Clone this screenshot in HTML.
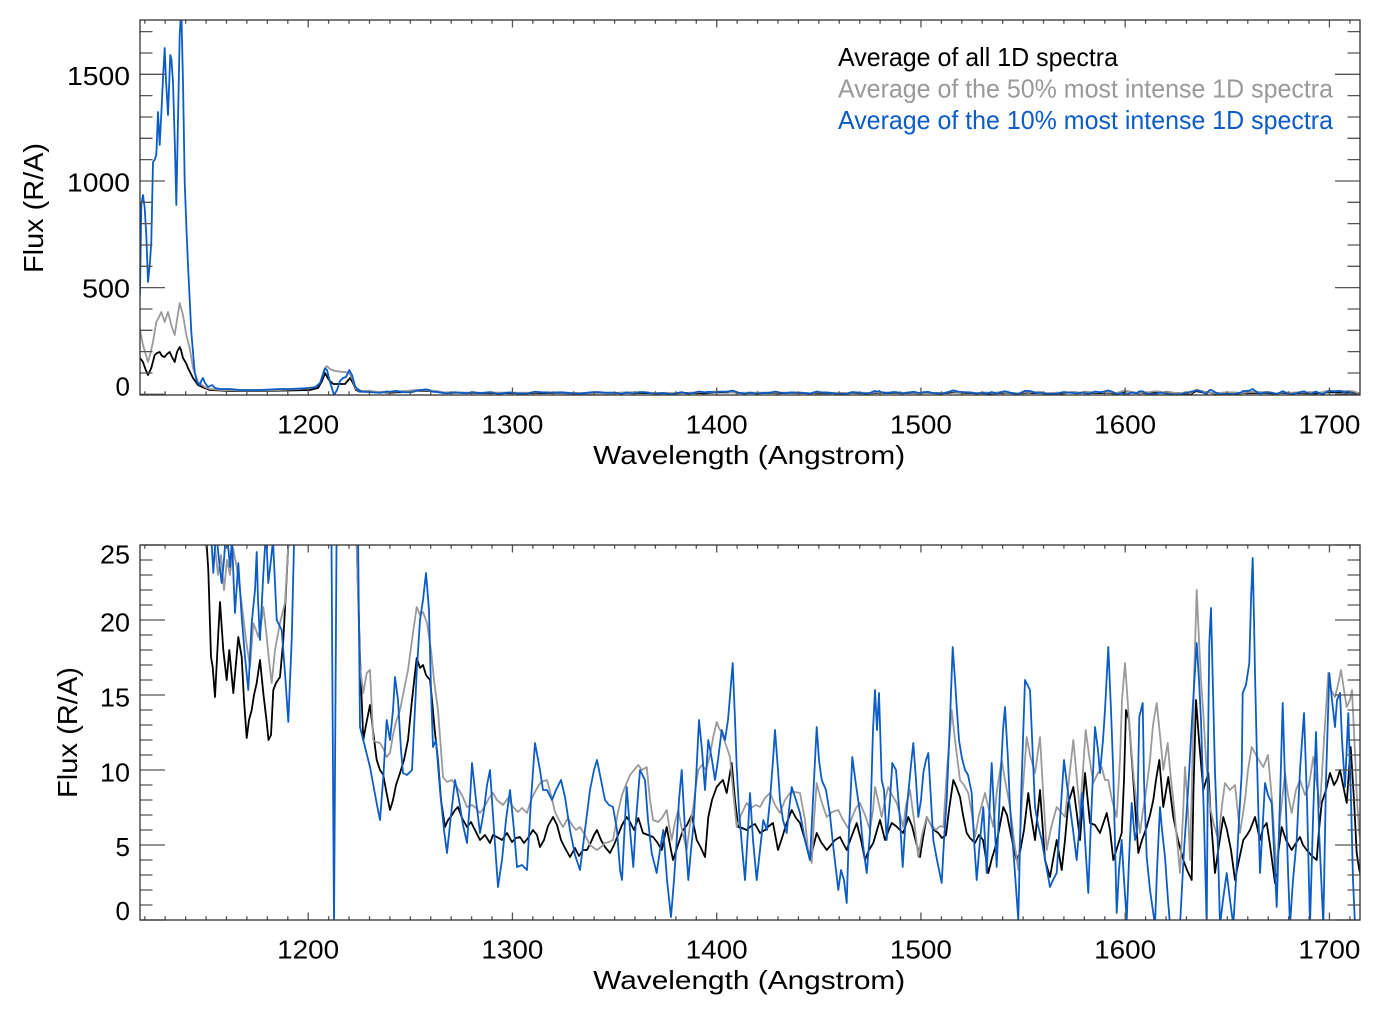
<!DOCTYPE html>
<html><head><meta charset="utf-8"><style>
html,body{margin:0;padding:0;background:#fff;}
svg{display:block;}
text{font-family:"Liberation Sans",Arial,sans-serif;fill:#000;}
.ln{fill:none;stroke-width:1.8;stroke-linejoin:round;vector-effect:non-scaling-stroke;}
.k{stroke:#000;} .g{stroke:#9a9a9a;} .b{stroke:#0b5cc6;}
.tk{fill:none;stroke:#555;stroke-width:1.3;}
</style></head><body>
<svg width="1382" height="1018" viewBox="0 0 1382 1018" xmlns="http://www.w3.org/2000/svg">
<rect width="1382" height="1018" fill="#fff"/>
<defs>
<clipPath id="c1"><rect x="140" y="20" width="1220" height="375"/></clipPath>
<clipPath id="c2"><rect x="140" y="545" width="1220" height="375"/></clipPath>
<path id="xmin" class="tk" d="M144.8 395v-3.75M165.2 395v-3.75M185.65 395v-3.75M206.1 395v-3.75M226.5 395v-3.75M246.9 395v-3.75M267.35 395v-3.75M287.8 395v-3.75M328.6 395v-3.75M349.05 395v-3.75M369.5 395v-3.75M389.9 395v-3.75M410.3 395v-3.75M430.75 395v-3.75M451.2 395v-3.75M471.6 395v-3.75M492 395v-3.75M532.9 395v-3.75M553.3 395v-3.75M573.7 395v-3.75M594.15 395v-3.75M614.6 395v-3.75M635 395v-3.75M655.4 395v-3.75M675.85 395v-3.75M696.3 395v-3.75M737.1 395v-3.75M757.55 395v-3.75M778 395v-3.75M798.4 395v-3.75M818.8 395v-3.75M839.25 395v-3.75M859.7 395v-3.75M880.1 395v-3.75M900.5 395v-3.75M941.4 395v-3.75M961.8 395v-3.75M982.2 395v-3.75M1002.65 395v-3.75M1023.1 395v-3.75M1043.5 395v-3.75M1063.9 395v-3.75M1084.35 395v-3.75M1104.8 395v-3.75M1145.6 395v-3.75M1166.05 395v-3.75M1186.5 395v-3.75M1206.9 395v-3.75M1227.3 395v-3.75M1247.75 395v-3.75M1268.2 395v-3.75M1288.6 395v-3.75M1309 395v-3.75M1349.9 395v-3.75M308.2 395v-7.5M512.45 395v-7.5M716.7 395v-7.5M920.95 395v-7.5M1125.2 395v-7.5M1329.45 395v-7.5"/>
<path id="y1" class="tk" d="M140 394.3h25M140 372.97h12.5M140 351.63h12.5M140 330.3h12.5M140 308.97h12.5M140 287.63h25M140 266.3h12.5M140 244.97h12.5M140 223.63h12.5M140 202.3h12.5M140 180.97h25M140 159.63h12.5M140 138.3h12.5M140 116.97h12.5M140 95.63h12.5M140 74.3h25M140 52.97h12.5M140 31.63h12.5"/>
<path id="y2" class="tk" d="M140 920h25M140 905h12.5M140 890h12.5M140 875h12.5M140 860h12.5M140 845h25M140 830h12.5M140 815h12.5M140 800h12.5M140 785h12.5M140 770h25M140 755h12.5M140 740h12.5M140 725h12.5M140 710h12.5M140 695h25M140 680h12.5M140 665h12.5M140 650h12.5M140 635h12.5M140 620h25M140 605h12.5M140 590h12.5M140 575h12.5M140 560h12.5M140 545h25"/>

<polyline id="bk2" class="ln k" points="355,530 356.7,545 360,657 361.7,700 363.3,740 366,725 370,705 373.3,733 376.7,760 380,770 383.3,775 386,790 390,810 393,800 396,785 400,773 404,760 408,740 412,700 416.7,658 420,668 423,665 426,675 430,680 432,700 435,733 438,760 441,800 445,827 448,820 452,815 455,810 458,807 462,818 467,827 471,822 475,830 480,840 485,835 490,843 493,835 497,837 502,840 507,833 512,842 516,838 520,837 524,843 528,838 533,830 537,835 540,847 544,840 548,826 553,817 557,825 561,840 565,848 570,857 575,848 579,856 583,850 587,850 591,842 594,835 597,830 601,840 605,847 610,853 614,845 618,835 622,825 626.7,817 630,822 634,830 638.3,818 643,833 648,835 653,837 657,842 661.7,850 666.7,827 670,845 673,860 678,845 683,830 687,825 691.7,815 696.7,840 701,848 705,857 708.3,817 712,800 716.7,787 720,783 723,780 726.7,793 731.7,763 735,800 738.3,827 742,828 746.7,830 751,826 755,824 760,833 765,830 769,826 773,823 778,850 782,838 786,825 791.7,810 796,818 800,823 805,840 810,860 813,848 816.7,833 821,842 826.7,850 831,845 835,840 840,837 843,843 846.7,850 851,838 856.7,823 861,840 865,860 869,850 873.3,843 877,830 880,820 885,840 888,832 891.7,823 896,826 900,830 903.3,833 908.3,817 912,826 916,842 920,857 923,838 926.7,817 931,825 934,830 938.3,833 942,838 946,835 949,810 953.3,780 956,786 960,797 963,815 966.7,833 970,838 975,843 979,835 983,840 988.3,873 992,858 996,845 1000,825 1003.3,807 1007,815 1010,830 1013,845 1016.7,860 1020,852 1024,830 1028.3,793 1031,815 1035,840 1040,790 1045,860 1050,877 1053,860 1056.7,840 1061.7,870 1065,840 1068.3,803 1073.3,787 1077,815 1080,840 1085,773 1090,823 1095,825 1100,833 1106.7,813 1110,830 1113.3,860 1117,848 1121.7,833 1124,780 1126,710 1129,720 1133.3,780 1136,820 1138.3,853 1142,840 1146.7,827 1150,815 1153.3,800 1156,780 1159.3,760 1163.3,807 1168.3,777 1173.3,817 1178,840 1183.3,860 1187,870 1191.7,880 1193.5,790 1196,700 1199,740 1203.3,790 1208.3,773 1211,820 1215,873 1219,845 1223.3,817 1227,830 1231,850 1235,880 1239,860 1243.3,840 1247,835 1250,830 1255,817 1260,840 1263,828 1266.7,823 1270,845 1275,883 1278,855 1281.7,827 1286,840 1291.7,850 1296,843 1300,837 1303,845 1306.7,850 1311,855 1316.7,860 1319,830 1321.7,803 1326,790 1330,773 1334,785 1337,780 1340,770 1343,785 1346.7,803 1350.7,747 1354,800 1356.7,853 1359.3,870 1362,880"/>

<polyline id="gy2" class="ln g" points="355,530 356.7,545 360,667 363.3,693 366.7,673 370,670 373.3,740 376,742 380,743 383,748 386.7,757 390,753 393,735 396,722 400,710 404,690 408,670 412,640 416.7,607 420,615 423,612 427,623 431,650 434,680 438,710 443,777 447,782 452,780 457,787 462,795 467,807 472,805 476,808 480,813 485,806 489,798 493,793 497,800 503,805 508,798 513,807 518,812 522,808 527,813 531,800 536,790 541,782 547,780 551,795 555,812 560,822 563,827 568,818 572,825 576,830 580,827 585,835 590,845 594,848 597,850 601,847 605,843 609,842 613,840 618,812 622,795 626.7,783 630,775 634,770 638.3,765 642,770 646.7,767 650,800 653,820 658,822 662,818 666.7,810 669,825 671.7,840 675,822 678.3,810 682,830 686.7,850 690,825 693.3,807 696,785 698.3,770 702,765 706,770 710,755 713,738 716.7,722 719,728 721.7,733 726,745 730,757 733,790 736.7,827 741,815 746.7,803 751,808 756,805 760,807 765,798 770,793 775,805 780,813 785,800 790,793 795,792 800,793 805,820 808,850 811.7,863 814,820 816.7,783 821,800 826.7,817 832,812 838.3,810 843,820 848,828 853,815 856,808 860,803 865,815 870,830 873,810 875,787 878,800 881.7,817 885,800 888.3,787 892,795 896.7,803 900,815 903.3,827 906,805 910,790 914,820 918.3,857 922,835 926.7,817 931,825 936,830 940,826 943.3,827 947,770 951.7,710 955,740 960,780 964,785 968.3,793 972,815 975,837 979,815 985,793 989,810 993.3,827 997,790 1001.7,760 1005,780 1010,807 1014,840 1018.3,870 1022,800 1026.7,737 1030,755 1035,773 1040,737 1043,790 1046.7,850 1051,828 1056.7,807 1061,812 1065,817 1069,780 1073.3,740 1077,780 1080,813 1083,770 1085.7,730 1089,755 1093.3,783 1097,775 1101.7,767 1105,780 1108.3,780 1112,800 1116.7,817 1120,760 1122,700 1125,663 1129,720 1133.3,773 1137,810 1140,833 1143,810 1146.7,787 1150,760 1153,725 1156.7,703 1160,735 1163.3,770 1167.7,743 1170,770 1173.3,800 1177,840 1180,873 1183,815 1185,767 1188,810 1190,860 1192,780 1194,680 1196.7,590 1199,640 1201,680 1203.3,713 1206,760 1210,807 1214,825 1218.3,840 1222,805 1225,783 1230,790 1235,785 1240,833 1245,800 1248,770 1251.7,747 1256,755 1260,762 1263.3,767 1268,755 1272,800 1276.7,873 1280,820 1285,773 1288,795 1291.7,813 1296,790 1300,780 1305,795 1309,785 1313.3,757 1317,785 1320,807 1324,740 1328.3,673 1331,690 1335,697 1338,685 1341,670 1344,690 1346.7,707 1350,700 1352,690 1355,753 1357,800 1359.3,833 1362,850"/>

<polyline id="bl2" class="ln b" points="358,530 360,727 365,747 370,767 373.3,785 377,805 380,820 383.3,777 386.7,720 390,740 393,710 395,677 398,700 401,750 403,773 407,775 412,770 417,667 420,620 423,600 426,573 429,610 431,690 433,747 436,740 440,790 444,830 447,853 451,815 455,780 459,800 463,825 467,843 470,800 472,763 476,800 480,833 484,810 487,785 490,770 494,830 498,887 502,860 506,820 510,790 514,830 517,867 522,865 527,870 531,800 535,743 540,770 543,790 547,790 552,800 556,790 561,780 565,797 570,830 575,855 580,870 585,830 590,790 594,770 597,760 601,780 605,800 609,805 613,807 617,830 620,870 622,880 626.7,787 630,830 633.3,867 636,820 640,770 645,780 648,820 651.7,853 656.7,873 660,850 663.3,830 667,880 671,917 674,880 676.7,840 679,800 681.7,770 685,830 688.3,880 691,850 693.3,827 696,780 699,720 702,750 705,790 708.3,740 712,760 715,780 718,760 721.7,730 725,740 728,720 730.5,690 732.7,663 735,720 736.7,767 739,810 741.7,843 745,880 748,830 750,793 753,840 756.7,880 760,850 763.3,820 767,830 770,800 773,760 775,730 778,770 780,800 783,820 786.7,833 789,810 791.7,787 796,800 800,813 805,840 810,860 813,800 816.7,727 819,760 821.7,780 826,790 830,815 833.3,847 836,870 838.3,890 841,870 844,880 846.7,903 849,830 852.3,757 856,785 860,813 863,845 866.7,873 870,833 873,730 875,690 877,730 879,693 881.7,780 884,790 886.7,840 890,800 892.3,763 896,770 900,820 902.7,867 905,830 908.3,793 911,765 913.3,743 916,780 918.3,817 921,800 923.3,773 926,760 928.3,753 931,800 933.3,840 937,860 941.7,883 944,840 946.7,800 950,720 952.7,647 955,680 956.7,707 959,740 961.7,757 965,770 968,775 971.7,793 974,840 976.7,880 980,840 983.3,807 986.7,873 989,820 991.7,763 994,810 996.7,867 1000,790 1003,730 1005,707 1008,760 1010,807 1014,860 1018.3,920 1021,800 1025,680 1030,690 1033,760 1035,807 1038,825 1041.7,840 1046,865 1050,887 1053,880 1056.7,873 1060,820 1064,760 1067,785 1070,807 1073,830 1076.7,860 1080,820 1082.3,793 1085,840 1088.3,893 1091,820 1095,727 1098,750 1100,773 1103,740 1105,710 1108.3,647 1111,710 1113.3,773 1116.7,913 1119,870 1121.7,840 1124,880 1126.7,920 1129,860 1131.7,803 1135,840 1137,830 1139.3,717 1142.7,703 1144,780 1146.7,857 1150,890 1155,925 1157,870 1160,807 1162,830 1165,857 1168,900 1170,925 1175,925 1180,925 1184,850 1188.3,787 1192,720 1196.7,643 1199,680 1201,720 1204,820 1206.7,925 1208,750 1209.3,643 1211,608 1213,690 1215,773 1218,850 1220,925 1223,900 1226.7,873 1230,900 1233.3,925 1236,880 1239,820 1241.7,773 1242.7,693 1246,685 1249.3,663 1251,600 1252.7,558 1254,620 1255,673 1257,760 1260,873 1263,820 1265,783 1268,795 1271.7,803 1274,850 1276.7,907 1280,800 1282.7,703 1285,780 1288,870 1290,925 1293,880 1296.7,840 1300,770 1304,713 1307,800 1310,925 1313,820 1316,732 1319,830 1323.3,925 1326,780 1329.3,673 1332,700 1335,727 1337,700 1340,693 1342,740 1345,787 1348.3,713 1351,800 1353,880 1355,925 1362,925"/>
</defs>

<!-- ===== TOP PLOT ===== -->
<g clip-path="url(#c1)">
<polyline class="ln k" points="139,360 140,358 143,362 145,368 148,375 151.3,368 154.7,355 157,353 159.7,352 162,356 164.7,357 167,354 169.7,352 172,357 174.7,362 177,352 179.7,347 181,350 183,358 186,363 188,368 193,378 198,385 204.7,388 210,390 230,391 260,391 290,390.5 310,390 318,388 322,381 325,373 329,380 333.3,384 340,384 345,384 350,378 353,383 356,390 360,392"/>
<use href="#bk2" transform="matrix(1 0 0 0.014222 0 381.216)"/>
<polyline class="ln g" points="139,332 140,330 143,345 148,362 150,355 153,342 156.3,322 158.5,318 161.3,312 164.7,322 168,312 171.3,325 174.7,335 177,320 179.7,303 183,315 186.3,335 189.7,348 193,368 198,382 204.7,387 210,389 220,390 240,390.5 260,390.5 280,390 300,389 315,387 320,383 324,370 326.7,366 330,369 335,371 340,371.7 345,372 349,373 352,378 355,387 358,390.5 362,392"/>
<use href="#gy2" transform="matrix(1 0 0 0.014222 0 381.216)"/>
<polyline class="ln b" points="139,300 140,293 141.3,205 143,195 144.7,208 146.3,235 148,282 150,262 151.3,242 153,162 154.5,160 156.3,155 158,112 159.7,145 161.5,110 163,78 164.7,48 166,80 168,115 170.3,55 171.5,60 173,82 175,150 176.3,205 178,120 179.7,35 180.7,18 181.5,18 183,82 184.7,182 186.5,230 188,265 191.3,332 194.7,372 197,382 199.7,385 201.7,380 203,378 205,383 208,387 212,385 215,388 220,389 230,389 240,390 250,390 260,390 270,389.5 280,389 290,389 300,388.5 310,388 316,387 320,383 323,375 325,368.3 327,370 330,382 334,395 337,390 340,381 343,378 346,377 349.3,370 352,375 355,386 358,390 362,391.5"/>
<use href="#bl2" transform="matrix(1 0 0 0.014222 0 381.216)"/>
</g>
<use href="#xmin"/>
<use href="#xmin" transform="matrix(1 0 0 -1 0 415)"/>
<use href="#y1"/>
<use href="#y1" transform="matrix(-1 0 0 1 1500 0)"/>
<rect x="140" y="20" width="1220" height="375" fill="none" stroke="#333" stroke-width="1.3"/>

<g font-size="26" text-anchor="end">
<text x="130" y="85" textLength="63" lengthAdjust="spacingAndGlyphs">1500</text>
<text x="130" y="191.7" textLength="63" lengthAdjust="spacingAndGlyphs">1000</text>
<text x="130" y="297.7" textLength="48" lengthAdjust="spacingAndGlyphs">500</text>
<text x="130" y="395.5">0</text>
</g>
<g font-size="26" text-anchor="middle">
<text x="308.2" y="433.3" textLength="62" lengthAdjust="spacingAndGlyphs">1200</text>
<text x="512.45" y="433.3" textLength="62" lengthAdjust="spacingAndGlyphs">1300</text>
<text x="716.7" y="433.3" textLength="62" lengthAdjust="spacingAndGlyphs">1400</text>
<text x="920.95" y="433.3" textLength="62" lengthAdjust="spacingAndGlyphs">1500</text>
<text x="1125.2" y="433.3" textLength="62" lengthAdjust="spacingAndGlyphs">1600</text>
<text x="1329.45" y="433.3" textLength="62" lengthAdjust="spacingAndGlyphs">1700</text>
<text x="749.2" y="464" textLength="312" lengthAdjust="spacingAndGlyphs">Wavelength (Angstrom)</text>
<text font-size="28" transform="translate(43 208) rotate(-90)" x="0" y="0" textLength="130" lengthAdjust="spacingAndGlyphs">Flux (R/A)</text>
</g>
<g font-size="26">
<text x="838" y="66" textLength="280" lengthAdjust="spacingAndGlyphs">Average of all 1D spectra</text>
<text x="838" y="97.5" textLength="495" lengthAdjust="spacingAndGlyphs" style="fill:#9a9a9a">Average of the 50% most intense 1D spectra</text>
<text x="838" y="129" textLength="495" lengthAdjust="spacingAndGlyphs" style="fill:#0b5cc6">Average of the 10% most intense 1D spectra</text>
</g>

<!-- ===== BOTTOM PLOT ===== -->
<g clip-path="url(#c2)">
<polyline class="ln k" points="205,530 206.7,545 208.3,570 211,657 212.7,667 215,697 218.3,633 220,602 223.3,650 226.7,680 229.3,650 233.3,693 238.3,637 241.7,657 244,700 246.7,738 249,720 251.7,710 254,695 256.7,683 260,660 263.3,693 266.7,722 268.5,740 271,735 273.3,690 276,683 280,677 283.3,640 286,590 288.3,545 290,530"/>
<use href="#bk2"/>
<polyline class="ln g" points="213,530 215,547 218,575 221,555 224,590 227,560 230,575 233,548 236.7,567 240,590 243.3,617 246,640 250,667 253.3,623 256,630 258.3,637 261,625 263.3,607 266,630 269,660 271.7,683 275,650 280,623 285,603 288.3,545 290,530"/>
<use href="#gy2"/>
<polyline class="ln b" points="209,530 211.7,545 213.3,573 216,530 219,560 221.7,583 224,560 226,530 228,545 230,567 232,540 234,590 235,613 238.3,563 241.7,617 245,657 248.3,690 251.7,623 255,590 256.7,552 258,600 260,640 263,580 265,547 266,530 268.3,583 271,560 273,540 276.7,620 281.7,630 285,673 288.3,722 291.7,640 294,545 295,530"/>
<polyline class="ln b" points="330,530 331.5,545 334,925 336.5,545 338,530"/>
<use href="#bl2"/>
</g>
<use href="#xmin" transform="translate(0 525)"/>
<use href="#xmin" transform="matrix(1 0 0 -1 0 940)"/>
<use href="#y2"/>
<use href="#y2" transform="matrix(-1 0 0 1 1500 0)"/>
<rect x="140" y="545" width="1220" height="375" fill="none" stroke="#333" stroke-width="1.3"/>

<g font-size="26" text-anchor="end">
<text x="130" y="563.3" textLength="30" lengthAdjust="spacingAndGlyphs">25</text>
<text x="130" y="631.7" textLength="30" lengthAdjust="spacingAndGlyphs">20</text>
<text x="130" y="706.7" textLength="30" lengthAdjust="spacingAndGlyphs">15</text>
<text x="130" y="781.7" textLength="30" lengthAdjust="spacingAndGlyphs">10</text>
<text x="130" y="856">5</text>
<text x="130" y="920">0</text>
</g>
<g font-size="26" text-anchor="middle">
<text x="308.2" y="958.3" textLength="62" lengthAdjust="spacingAndGlyphs">1200</text>
<text x="512.45" y="958.3" textLength="62" lengthAdjust="spacingAndGlyphs">1300</text>
<text x="716.7" y="958.3" textLength="62" lengthAdjust="spacingAndGlyphs">1400</text>
<text x="920.95" y="958.3" textLength="62" lengthAdjust="spacingAndGlyphs">1500</text>
<text x="1125.2" y="958.3" textLength="62" lengthAdjust="spacingAndGlyphs">1600</text>
<text x="1329.45" y="958.3" textLength="62" lengthAdjust="spacingAndGlyphs">1700</text>
<text x="749.2" y="989" textLength="312" lengthAdjust="spacingAndGlyphs">Wavelength (Angstrom)</text>
<text font-size="28" transform="translate(77 732.5) rotate(-90)" x="0" y="0" textLength="131" lengthAdjust="spacingAndGlyphs">Flux (R/A)</text>
</g>
</svg>
</body></html>
